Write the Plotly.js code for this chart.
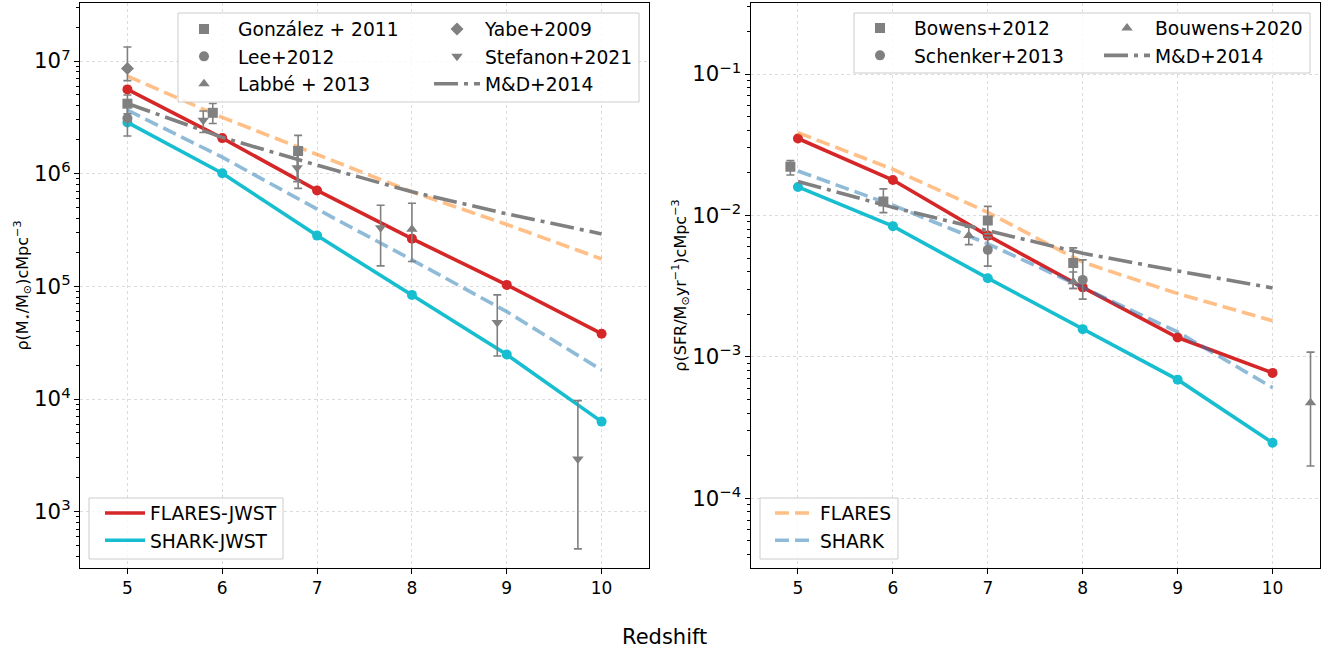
<!DOCTYPE html>
<html><head><meta charset="utf-8">
<script src="https://cdn.plot.ly/plotly-3.0.1.min.js"></script>
<style>html,body{margin:0;padding:0;background:#fff;} #chart{width:1325px;height:653px;}</style>
</head><body><div id="chart"></div>
<script>
// ---------------- data ----------------
const redshift = [5, 6, 7, 8, 9, 10];

// left panel: stellar mass density (Msun / cMpc^3)
const smd_flares_jwst = [5.6e6, 2.07e6, 7.1e5, 2.65e5, 1.03e5, 3.8e4];
const smd_shark_jwst  = [2.85e6, 1.01e6, 2.82e5, 8.4e4, 2.48e4, 6.3e3];
const smd_flares      = [7.35e6, 3.16e6, 1.48e6, 6.9e5, 3.54e5, 1.75e5];
const smd_shark       = [3.66e6, 1.4e6, 4.85e5, 1.72e5, 5.96e4, 1.81e4];
const smd_md14        = [4.2e6, 2.1e6, 1.19e6, 6.9e5, 4.4e5, 2.92e5];

const gonzalez_z   = [5.0, 5.9, 6.8];
const gonzalez_val = [4.18e6, 3.47e6, 1.59e6];
const gonzalez_hi  = [5.0e6, 4.2e6, 2.19e6];
const gonzalez_lo  = [3.4e6, 2.79e6, 7.4e5];

const lee_z   = [5.0];
const lee_val = [3.1e6];
const lee_hi  = [4.0e6];
const lee_lo  = [2.16e6];

const labbe_z   = [8.0];
const labbe_val = [3.21e5];
const labbe_hi  = [5.46e5];
const labbe_lo  = [1.66e5];

const yabe_z   = [5.0];
const yabe_val = [8.6e6];
const yabe_hi  = [1.33e7];
const yabe_lo  = [6.7e6];

const stefanon_z   = [5.8, 6.79, 7.67, 8.9, 9.75];
const stefanon_val = [2.98e6, 1.13e6, 3.32e5, 4.77e4, 2.93e3];
const stefanon_hi  = [3.6e6, 1.5e6, 5.25e5, 8.4e4, 9.67e3];
const stefanon_lo  = [2.32e6, 8.5e5, 1.52e5, 2.41e4, 4.67e2];

// right panel: star formation rate density (Msun / yr / cMpc^3)
const sfrd_flares_jwst = [0.035, 0.0178, 0.0072, 3.1e-3, 1.37e-3, 7.7e-4];
const sfrd_shark_jwst  = [0.0159, 8.4e-3, 3.6e-3, 1.57e-3, 6.9e-4, 2.47e-4];
const sfrd_flares      = [0.0385, 0.0212, 0.0105, 4.67e-3, 2.8e-3, 1.8e-3];
const sfrd_shark       = [0.0206, 0.0118, 6.3e-3, 3.1e-3, 1.5e-3, 6.06e-4];
const sfrd_md14        = [0.0174, 0.0114, 0.0078, 0.0054, 0.00405, 0.00307];

const bowens_z   = [4.92, 5.9, 7.0, 7.9];
const bowens_val = [0.0221, 0.01256, 9.22e-3, 4.61e-3];
const bowens_hi  = [0.0244, 0.0154, 0.01159, 5.9e-3];
const bowens_lo  = [0.0193, 0.01047, 7.4e-3, 3.04e-3];

const schenker_z   = [7.0, 8.0];
const schenker_val = [5.71e-3, 3.5e-3];
const schenker_hi  = [7.0e-3, 4.85e-3];
const schenker_lo  = [4.38e-3, 2.56e-3];

const bouwens20_z   = [6.8, 7.9, 10.4];
const bouwens20_val = [7.21e-3, 3.4e-3, 4.73e-4];
const bouwens20_hi  = [8.26e-3, 3.98e-3, 1.08e-3];
const bouwens20_lo  = [6.22e-3, 3.04e-3, 1.69e-4];

// ---------------- styling ----------------
const F = 'DejaVu Sans';
const RED = '#d62728', CYAN = '#17becf', GRAY = '#808080';
const ORANGE_A = 'rgba(255,127,14,0.5)', BLUE_A = 'rgba(31,119,180,0.5)';
const LW = 3.6;

// plot area in pixels
const L = 80, R = 1320, T = 3, B = 568;
const W = R - L, H = B - T;
const px = x => (x - L) / W;
const py = y => (B - y) / H;

function line(name, xs, ys, color, dash, xa, ya, legend, rank, show) {
  return {type: 'scatter', mode: 'lines', name: name, x: xs, y: ys, xaxis: xa, yaxis: ya,
    legend: legend, legendrank: rank, showlegend: show,
    line: {color: color, width: LW, dash: dash}, hoverinfo: 'skip'};
}
function dots(xs, ys, color, xa, ya) {
  return {type: 'scatter', mode: 'markers', x: xs, y: ys, xaxis: xa, yaxis: ya, showlegend: false,
    marker: {color: color, size: 10}, hoverinfo: 'skip'};
}
function pts(name, xs, ys, hi, lo, symbol, size, xa, ya, legend, rank) {
  return {type: 'scatter', mode: 'markers', name: name, x: xs, y: ys, xaxis: xa, yaxis: ya,
    legend: legend, legendrank: rank,
    marker: {symbol: symbol, size: size, color: GRAY},
    error_y: {type: 'data', symmetric: false,
      array: hi.map((h, i) => h - ys[i]), arrayminus: lo.map((l, i) => ys[i] - l),
      color: GRAY, thickness: 1.6, width: 4}};
}

const MD_DASH = '24px,6px,4px,6px';
const DASH = '14px,6px';

const traces = [
  // left panel
  line('FLARES-JWST', redshift, smd_flares_jwst, RED, 'solid', 'x', 'y', 'legend3', 1, true),
  dots(redshift, smd_flares_jwst, RED, 'x', 'y'),
  line('SHARK-JWST', redshift, smd_shark_jwst, CYAN, 'solid', 'x', 'y', 'legend3', 2, true),
  dots(redshift, smd_shark_jwst, CYAN, 'x', 'y'),
  line('FLARES', redshift, smd_flares, ORANGE_A, DASH, 'x', 'y', 'legend3', 3, false),
  line('SHARK', redshift, smd_shark, BLUE_A, DASH, 'x', 'y', 'legend3', 4, false),
  line('M&D+2014', redshift, smd_md14, GRAY, MD_DASH, 'x', 'y', 'legend2', 3, true),
  pts('González + 2011', gonzalez_z, gonzalez_val, gonzalez_hi, gonzalez_lo, 'square', 10, 'x', 'y', 'legend', 1),
  pts('Lee+2012', lee_z, lee_val, lee_hi, lee_lo, 'circle', 10, 'x', 'y', 'legend', 2),
  pts('Labbé + 2013', labbe_z, labbe_val, labbe_hi, labbe_lo, 'triangle-up', 10, 'x', 'y', 'legend', 3),
  pts('Yabe+2009', yabe_z, yabe_val, yabe_hi, yabe_lo, 'diamond', 10, 'x', 'y', 'legend2', 1),
  pts('Stefanon+2021', stefanon_z, stefanon_val, stefanon_hi, stefanon_lo, 'triangle-down', 10, 'x', 'y', 'legend2', 2),

  // right panel
  line('FLARES-JWST', redshift, sfrd_flares_jwst, RED, 'solid', 'x2', 'y2', 'legend6', 5, false),
  dots(redshift, sfrd_flares_jwst, RED, 'x2', 'y2'),
  line('SHARK-JWST', redshift, sfrd_shark_jwst, CYAN, 'solid', 'x2', 'y2', 'legend6', 6, false),
  dots(redshift, sfrd_shark_jwst, CYAN, 'x2', 'y2'),
  line('FLARES', redshift, sfrd_flares, ORANGE_A, DASH, 'x2', 'y2', 'legend6', 1, true),
  line('SHARK', redshift, sfrd_shark, BLUE_A, DASH, 'x2', 'y2', 'legend6', 2, true),
  line('M&D+2014', redshift, sfrd_md14, GRAY, MD_DASH, 'x2', 'y2', 'legend5', 2, true),
  pts('Bowens+2012', bowens_z, bowens_val, bowens_hi, bowens_lo, 'square', 10, 'x2', 'y2', 'legend4', 1),
  pts('Schenker+2013', schenker_z, schenker_val, schenker_hi, schenker_lo, 'circle', 10, 'x2', 'y2', 'legend4', 2),
  pts('Bouwens+2020', bouwens20_z, bouwens20_val, bouwens20_hi, bouwens20_lo, 'triangle-up', 10, 'x2', 'y2', 'legend5', 1)
];

const xCommon = {
  range: [4.5, 10.5], tickvals: redshift, ticktext: redshift.map(String),
  showline: true, linecolor: '#000', linewidth: 1, mirror: true,
  ticks: 'outside', ticklen: 5, tickwidth: 1, tickcolor: '#000',
  showgrid: true, gridcolor: '#dcdcdc', griddash: 'dot', gridwidth: 1, zeroline: false,
  tickfont: {family: F, size: 17, color: '#000'}
};
const yCommon = {
  type: 'log', dtick: 1, exponentformat: 'power', showexponent: 'all',
  showline: true, linecolor: '#000', linewidth: 1, mirror: true,
  ticks: 'outside', ticklen: 5, tickwidth: 1, tickcolor: '#000',
  minor: {ticks: 'outside', ticklen: 3, tickwidth: 1, tickcolor: '#000', showgrid: false},
  showgrid: true, gridcolor: '#dcdcdc', griddash: 'dot', gridwidth: 1, zeroline: false,
  tickfont: {family: F, size: 17, color: '#000'}, automargin: false
};

function leg(textX, topY, iw) {
  return {x: px(textX - iw - 10), y: py(topY), xanchor: 'left', yanchor: 'top',
    bgcolor: 'rgba(0,0,0,0)', borderwidth: 0, itemwidth: iw, tracegroupgap: 0,
    font: {family: F, size: 18.7, color: '#000'}};
}
function box(x0, y0, x1, y1) {
  return {type: 'rect', xref: 'paper', yref: 'paper', x0: px(x0), x1: px(x1), y0: py(y1), y1: py(y0),
    fillcolor: 'rgba(255,255,255,0.8)', line: {color: '#cccccc', width: 1}, layer: 'above'};
}

const layout = {
  width: 1325, height: 653,
  margin: {l: L, r: 1325 - R, t: T, b: 653 - B, pad: 0},
  paper_bgcolor: '#fff', plot_bgcolor: '#fff',
  font: {family: F, color: '#000'},
  showlegend: true,
  xaxis: Object.assign({}, xCommon, {domain: [0, px(649)], anchor: 'y'}),
  xaxis2: Object.assign({}, xCommon, {domain: [px(750.5), 1], anchor: 'y2'}),
  yaxis: Object.assign({}, yCommon, {range: [2.5, 7.515], anchor: 'x',
    title: {text: 'ρ(M<sub>⋆</sub>/M<sub>⊙</sub>)cMpc<sup>−3</sup>', font: {family: F, size: 16}, standoff: 0}}),
  yaxis2: Object.assign({}, yCommon, {range: [-4.493, -0.498], anchor: 'x2',
    title: {text: 'ρ(SFR/M<sub>⊙</sub>yr<sup>−1</sup>)cMpc<sup>−3</sup>', font: {family: F, size: 16}, standoff: 1}}),
  legend: leg(238, 10.4, 58),
  legend2: leg(485, 10.4, 46),
  legend3: leg(150, 494.3, 40),
  legend4: leg(914, 9.4, 58),
  legend5: leg(1155, 9.4, 46),
  legend6: leg(820, 494.3, 40),
  shapes: [
    box(178, 13, 639, 102),
    box(89, 498, 283, 559),
    box(854, 13, 1310, 73),
    box(760, 498, 898, 559)
  ],
  annotations: [
    {text: 'Redshift', xref: 'paper', yref: 'paper', x: px(664), y: py(637),
     xanchor: 'center', yanchor: 'middle', showarrow: false,
     font: {family: F, size: 21, color: '#000'}}
  ]
};

Plotly.newPlot('chart', traces, layout, {staticPlot: true, displayModeBar: false});
</script>
</body></html>
